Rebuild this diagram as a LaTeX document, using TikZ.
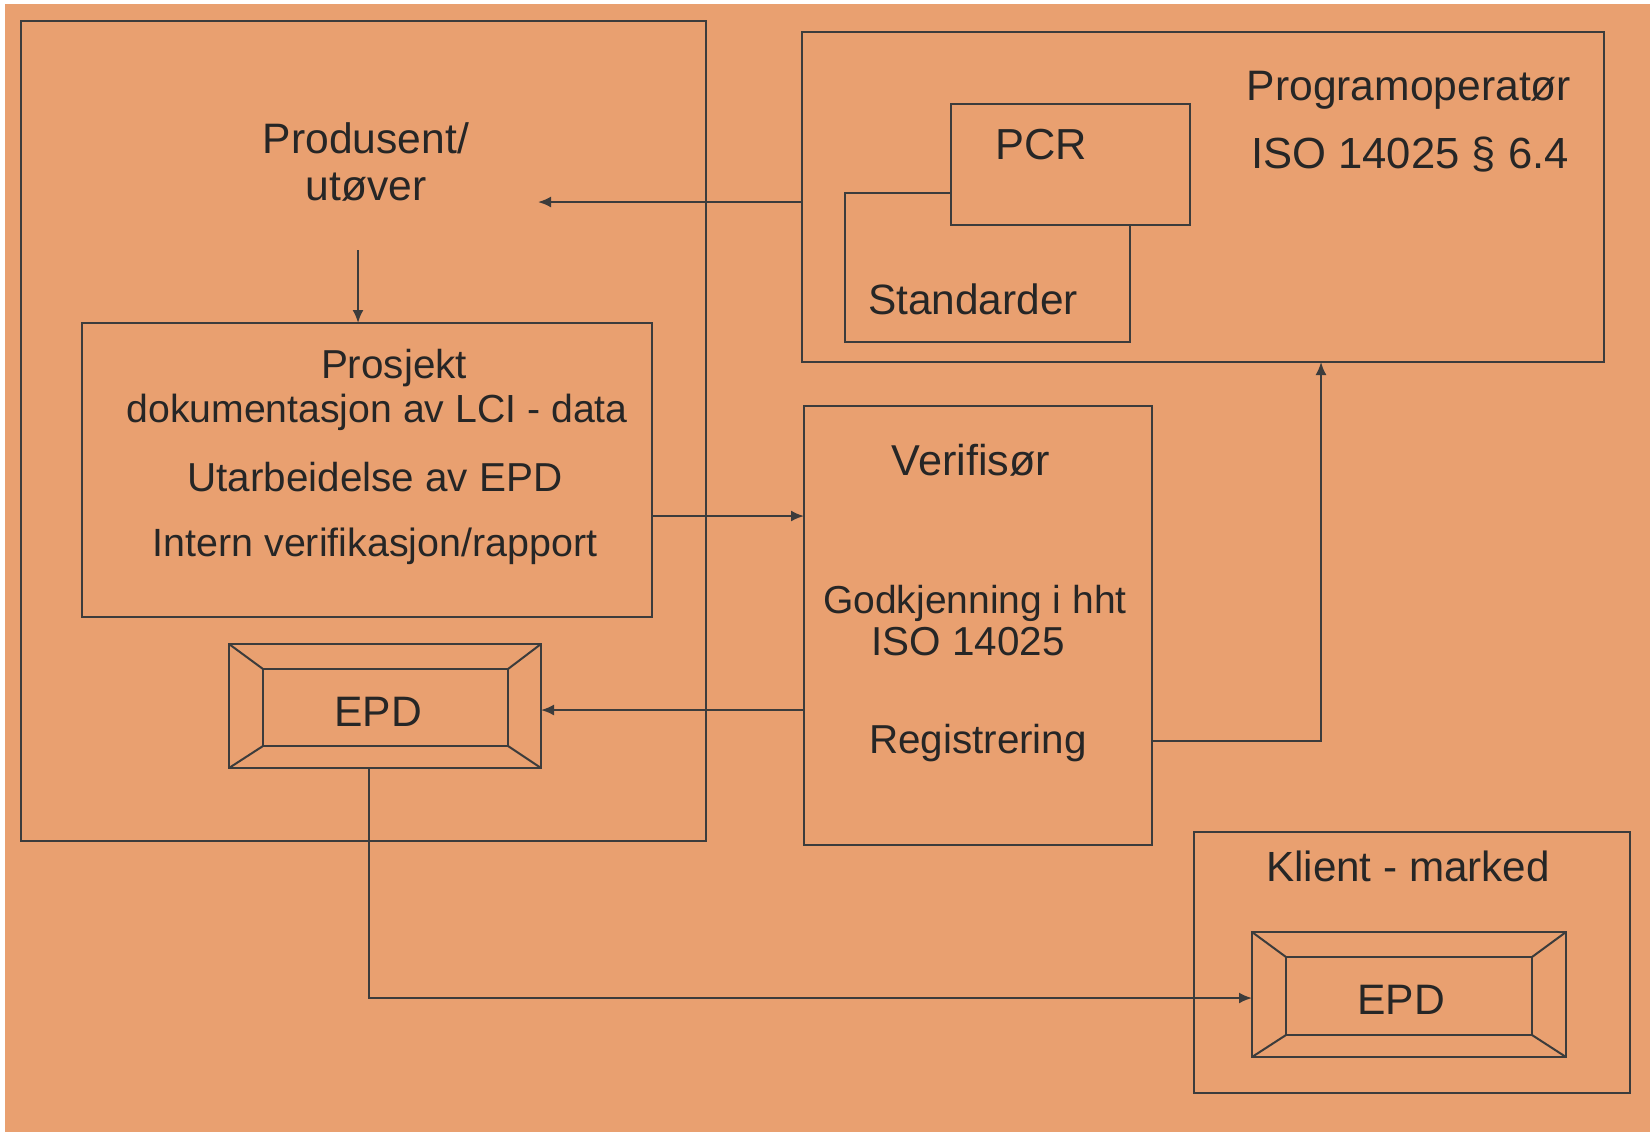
\documentclass[tikz,border=0pt]{standalone}
\usepackage{fontspec}
\setmainfont{Liberation Sans}
\usetikzlibrary{arrows.meta,fit}
\definecolor{bg}{RGB}{233,160,112}
\definecolor{ln}{RGB}{60,60,60}
\begin{document}
\begin{tikzpicture}[x=0.5pt,y=-0.5pt,
  box/.style={draw=ln,line width=1pt,inner sep=0pt,outer sep=0pt,fill=bg},
  lbl/.style={anchor=base,inner sep=0pt,font=\fontsize{20.5pt}{24pt}\selectfont,text=black!85},
  fs/.style={font=\fontsize{#1pt}{24pt}\selectfont},
  arr/.style={draw=ln,line width=1pt,-{Latex[length=6.5pt,width=5.5pt]}},
  bev/.style={draw=ln,line width=1pt}]
\useasboundingbox (0,0) rectangle (1650,1132);
\fill[white] (0,0) rectangle (1650,1132);
\fill[bg] (5,4) rectangle (1650,1132);
% boxes
\node[box,fit={(21,21) (706,841)}] (left) {};
\node[box,fit={(802,32) (1604,362)}] (prog) {};
\node[box,fit={(845,193) (1130,342)}] (std) {};
\node[box,fit={(951,104) (1190,225)}] (pcr) {};
\node[box,fit={(82,323) (652,617)}] (proj) {};
\node[box,fit={(804,406) (1152,845)}] (ver) {};
\node[box,fit={(1194,832) (1630,1093)}] (kli) {};
% EPD bevel boxes
\node[box,fit={(229,644) (541,768)}] (epdL) {};
\node[box,fit={(263,669) (508,746)}] (epdLi) {};
\foreach \a in {north west,north east,south west,south east}
  \draw[bev] (epdL.\a) -- (epdLi.\a);
\node[box,fit={(1252,932) (1566,1057)}] (epdR) {};
\node[box,fit={(1286,957) (1532,1035)}] (epdRi) {};
\foreach \a in {north west,north east,south west,south east}
  \draw[bev] (epdR.\a) -- (epdRi.\a);
% texts
\node[lbl,fs=21.3] (t1) at (366,153) {Produsent/};
\node[lbl,fs=21.3] (t2) at (366,200) {utøver};
\node[lbl,fs=21.3] (t3) at (1409,100) {Programoperatør};
\node[lbl,fs=21.8] (t4) at (1410,168) {ISO 14025 § 6.4};
\node[lbl,fs=21.7] (t5) at (1041,159) {PCR};
\node[lbl,fs=21.2] (t6) at (973,314) {Standarder};
\node[lbl,fs=20.2] (t7) at (394,378) {Prosjekt};
\node[lbl,fs=19.6] (t8) at (377,422) {dokumentasjon av LCI - data};
\node[lbl,fs=20.2] (t9) at (375,491) {Utarbeidelse av EPD};
\node[lbl,fs=19.7] (t10) at (375,556) {Intern verifikasjon/rapport};
\node[lbl,fs=21.6] (t11) at (971,475) {Verifisør};
\node[lbl,fs=19.5] (t12) at (975,613) {Godkjenning i hht};
\node[lbl,fs=20.2] (t13) at (968,655) {ISO 14025};
\node[lbl,fs=20.2] (t14) at (978,753) {Registrering};
\node[lbl,fs=21.3] (t15) at (378,726) {EPD};
\node[lbl,fs=21.1] (t16) at (1408,881) {Klient - marked};
\node[lbl,fs=21.3] (t17) at (1401,1014) {EPD};
% connectors
\coordinate (a1e) at (538,202);
\draw[arr] (prog.west |- a1e) -- (a1e);
\coordinate (a2s) at (358,250);
\draw[arr] (a2s) -- (proj.north -| a2s);
\coordinate (y516) at (0,516);
\draw[arr] (proj.east |- y516) -- (ver.west |- y516);
\coordinate (y710) at (0,710);
\draw[arr] (ver.west |- y710) -- (epdL.east |- y710);
\coordinate (c741) at (1321,741);
\draw[arr] (ver.east |- c741) -| (prog.south -| c741);
\coordinate (c998) at (369,998);
\draw[arr] (epdL.south -| c998) |- (epdR.west |- c998);
\end{tikzpicture}
\end{document}
